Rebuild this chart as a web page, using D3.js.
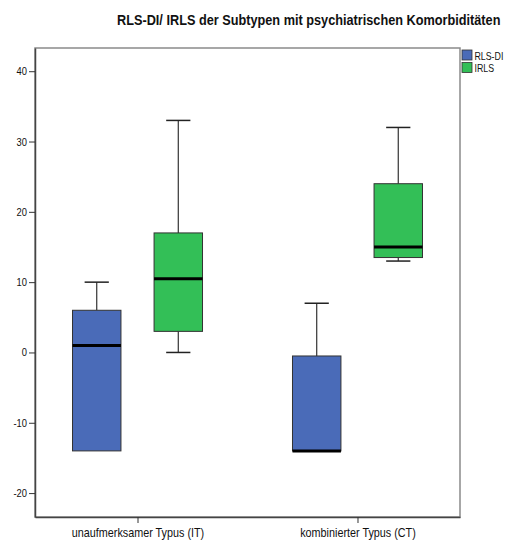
<!DOCTYPE html>
<html>
<head>
<meta charset="utf-8">
<script src="https://cdn.jsdelivr.net/npm/d3@7"></script>
<style>
  body { margin: 0; background: #fff; }
  text { font-family: "Liberation Sans Narrow", "Arial Narrow", "Liberation Sans", Arial, sans-serif; fill: #111; }
</style>
</head>
<body>
<svg width="507" height="541"></svg>
<script>
const categories = ["unaufmerksamer Typus (IT)", "kombinierter Typus (CT)"];
const series = ["RLS-DI", "IRLS"];
const colors = ["#4a6bb8", "#33bf57"];

// [whisker low, Q1, median, Q3, whisker high]
const rlsDI = [[-14, -14, 1, 6, 10], [-14, -14, -14, -0.5, 7]];
const irls = [[0, 3, 10.5, 17, 33], [13, 13.5, 15, 24, 32]];

const yTicks = [-20, -10, 0, 10, 20, 30, 40];

const svg = d3.select("svg");
const mLeft = 35, mRight = 460, mTop = 48, mBottom = 517;

// squeeze text horizontally around its own x to look like a narrow font
const narrow = (sel, r) => sel.each(function() {
  const t = d3.select(this);
  const x0 = +t.attr("x") || 0;
  t.attr("transform", `translate(${x0 * (1 - r)},0) scale(${r},1)`);
});

const y = d3.scaleLinear().domain([-23.4, 43.3]).range([mBottom, mTop]);
const x = d3.scalePoint().domain(categories).range([mLeft, mRight]).padding(0.466);
const sub = d3.scaleBand().domain(series).range([-65, 65]).paddingInner(0.406);

const boxes = [];
categories.forEach((c, i) => {
  boxes.push({cat: c, s: series[0], v: rlsDI[i], color: colors[0]});
  boxes.push({cat: c, s: series[1], v: irls[i], color: colors[1]});
});

// frame
svg.append("rect")
  .attr("x", mLeft).attr("y", mTop)
  .attr("width", mRight - mLeft).attr("height", mBottom - mTop)
  .attr("fill", "none").attr("stroke", "#8a8a8a").attr("stroke-width", 1.5);

const g = svg.append("g");
const bw = sub.bandwidth();

const box = g.selectAll("g.box").data(boxes).enter().append("g")
  .attr("transform", d => `translate(${x(d.cat) + sub(d.s)},0)`);

// whiskers
box.append("line")
  .attr("x1", bw / 2).attr("x2", bw / 2)
  .attr("y1", d => y(d.v[4])).attr("y2", d => y(d.v[3]))
  .attr("stroke", "#333").attr("stroke-width", 1.2);
box.append("line")
  .attr("x1", bw / 2).attr("x2", bw / 2)
  .attr("y1", d => y(d.v[0])).attr("y2", d => y(d.v[1]))
  .attr("stroke", "#333").attr("stroke-width", 1.2);
box.append("line")
  .attr("x1", bw / 4).attr("x2", bw * 3 / 4)
  .attr("y1", d => y(d.v[4])).attr("y2", d => y(d.v[4]))
  .attr("stroke", "#222").attr("stroke-width", 1.5);
box.filter(d => d.v[0] < d.v[1]).append("line")
  .attr("x1", bw / 4).attr("x2", bw * 3 / 4)
  .attr("y1", d => y(d.v[0])).attr("y2", d => y(d.v[0]))
  .attr("stroke", "#222").attr("stroke-width", 1.5);

box.append("rect")
  .attr("x", 0).attr("width", bw)
  .attr("y", d => y(d.v[3])).attr("height", d => y(d.v[1]) - y(d.v[3]))
  .attr("fill", d => d.color).attr("stroke", "#333").attr("stroke-width", 1);

box.append("line")
  .attr("x1", 0).attr("x2", bw)
  .attr("y1", d => y(d.v[2])).attr("y2", d => y(d.v[2]))
  .attr("stroke", "#000").attr("stroke-width", 3);

// axes
const yAxis = svg.append("g")
  .attr("transform", `translate(${mLeft},0)`)
  .call(d3.axisLeft(y).tickValues(yTicks).tickFormat(d => String(d))
    .tickSize(6).tickSizeOuter(0).tickPadding(2));
yAxis.select(".domain").attr("stroke", "#444").attr("stroke-width", 1.5);
yAxis.selectAll(".tick line").attr("stroke", "#333");
yAxis.selectAll("text").style("font-size", "11px").attr("fill", "#111").call(narrow, 0.85);

const xAxis = svg.append("g")
  .attr("transform", `translate(0,${mBottom})`)
  .call(d3.axisBottom(x).tickSize(6).tickSizeOuter(0).tickPadding(5));
xAxis.select(".domain").attr("stroke", "#444").attr("stroke-width", 1.5);
xAxis.selectAll(".tick line").attr("stroke", "#333");
xAxis.selectAll("text").style("font-size", "12px").attr("fill", "#111").call(narrow, 0.9);

// title
const title = svg.append("g").attr("transform", "translate(117,25)").append("text")
  .style("font-size", "14px").style("font-weight", "bold")
  .text("RLS-DI/ IRLS der Subtypen mit psychiatrischen Komorbiditäten");
title.call(narrow, 384 / title.node().getComputedTextLength());

// legend
const leg = svg.append("g").attr("transform", "translate(462,50)");
series.forEach((s, i) => {
  leg.append("rect")
    .attr("x", 0).attr("y", i * 12.5)
    .attr("width", 10).attr("height", 10)
    .attr("fill", colors[i]).attr("stroke", "#333").attr("stroke-width", 0.8);
  leg.append("text")
    .attr("x", 12.5).attr("y", i * 12.5 + 9.5)
    .style("font-size", "11px")
    .text(s)
    .call(narrow, 0.8);
});
</script>
</body>
</html>
